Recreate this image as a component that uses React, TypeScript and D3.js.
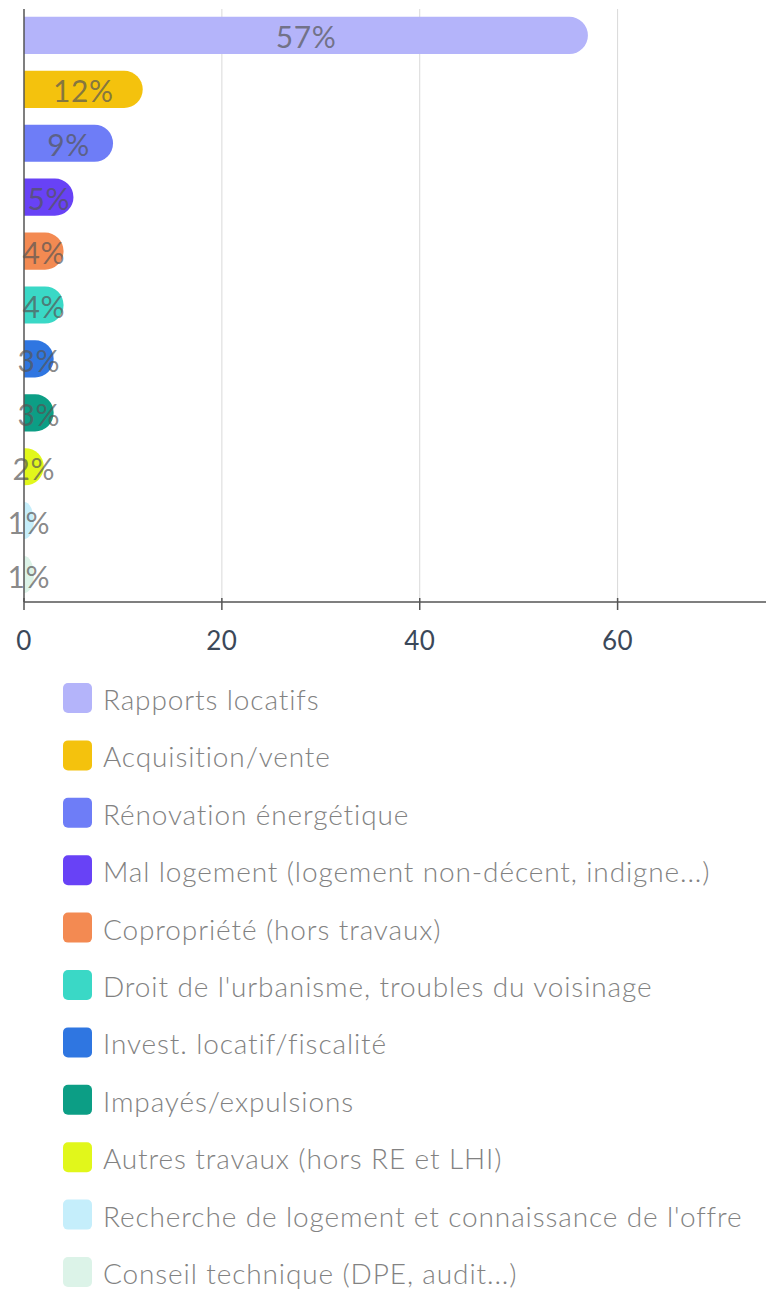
import React from "react";
import * as d3 from "d3";

const categories = [
  "Rapports locatifs",
  "Acquisition/vente",
  "Rénovation énergétique",
  "Mal logement (logement non-décent, indigne...)",
  "Copropriété (hors travaux)",
  "Droit de l'urbanisme, troubles du voisinage",
  "Invest. locatif/fiscalité",
  "Impayés/expulsions",
  "Autres travaux (hors RE et LHI)",
  "Recherche de logement et connaissance de l'offre",
  "Conseil technique (DPE, audit...)",
];
const values = [57, 12, 9, 5, 4, 4, 3, 3, 2, 1, 1];
const colors = [
  "#b4b4fa",
  "#f4c20d",
  "#6e7df7",
  "#6842f6",
  "#f38a52",
  "#3ad8c6",
  "#2f76e1",
  "#0c9e85",
  "#e1f71b",
  "#c5eefb",
  "#dcf3e8",
];
const xTicks = [0, 20, 40, 60];

const W = 766;
const H = 1292;
const FONT = "Lato, 'Open Sans', sans-serif";

function barPath(x0: number, x1: number, y0: number, h: number) {
  const w = Math.max(0, x1 - x0);
  const ry = h / 2;
  const rx = Math.min(ry, w);
  const y1 = y0 + h;
  return `M${x0},${y0}H${x1 - rx}A${rx},${ry} 0 0 1 ${x1},${y0 + ry}A${rx},${ry} 0 0 1 ${x1 - rx},${y1}H${x0}Z`;
}

export default function App() {
  const x = d3.scaleLinear().domain([0, 75]).range([24, 766]);
  const y = d3
    .scaleBand<string>()
    .domain(categories)
    .range([8.5, 601.5])
    .paddingInner(0.31)
    .paddingOuter(0.155);
  const axisY = 602;
  const legendY = d3
    .scalePoint<string>()
    .domain(categories)
    .range([698, 1272]);

  return (
    <svg
      width={W}
      height={H}
      style={{ position: "absolute", left: 0, top: 0, background: "#fff" }}
      fontFamily={FONT}
    >
      {/* grid */}
      {xTicks
        .filter((t) => t > 0)
        .map((t) => (
          <line
            key={"g" + t}
            x1={x(t)}
            x2={x(t)}
            y1={9}
            y2={axisY}
            stroke="#d9d9d9"
            strokeWidth={1}
          />
        ))}
      {/* bars */}
      {categories.map((c, i) => (
        <path
          key={"b" + c}
          d={barPath(x(0), x(values[i]), y(c)!, y.bandwidth())}
          fill={colors[i]}
        />
      ))}
      {/* y axis */}
      <line x1={x(0)} x2={x(0)} y1={9} y2={axisY} stroke="#555" strokeWidth={1.5} />
      {/* x axis */}
      <line x1={x(0)} x2={W} y1={axisY} y2={axisY} stroke="#555" strokeWidth={1.5} />
      {xTicks.map((t) => (
        <g key={"t" + t}>
          <line x1={x(t)} x2={x(t)} y1={axisY - 4} y2={axisY + 8} stroke="#555" strokeWidth={1.5} />
          <text
            x={x(t)}
            y={640}
            textAnchor="middle"
            dominantBaseline="central"
            fontSize={26}
            letterSpacing={0.5}
            fill="#3b4859"
          >
            {t}
          </text>
        </g>
      ))}
      {/* value labels */}
      {categories.map((c, i) => (
        <text
          key={"l" + c}
          x={(x(0) + x(values[i])) / 2}
          y={y(c)! + y.bandwidth() / 2 + 1}
          textAnchor="middle"
          dominantBaseline="central"
          fontSize={30}
          letterSpacing={0.6}
          fill="#555"
          fillOpacity={0.7}
        >
          {values[i] + "%"}
        </text>
      ))}
      {/* legend */}
      {categories.map((c, i) => (
        <g key={"lg" + c}>
          <rect
            x={63}
            y={legendY(c)! - 15}
            width={29}
            height={30}
            rx={5}
            fill={colors[i]}
          />
          <text
            x={103}
            y={legendY(c)! + 1}
            dominantBaseline="central"
            fontSize={28}
            fontWeight={300}
            letterSpacing={0.88}
            fill="#828282"
          >
            {c}
          </text>
        </g>
      ))}
    </svg>
  );
}
